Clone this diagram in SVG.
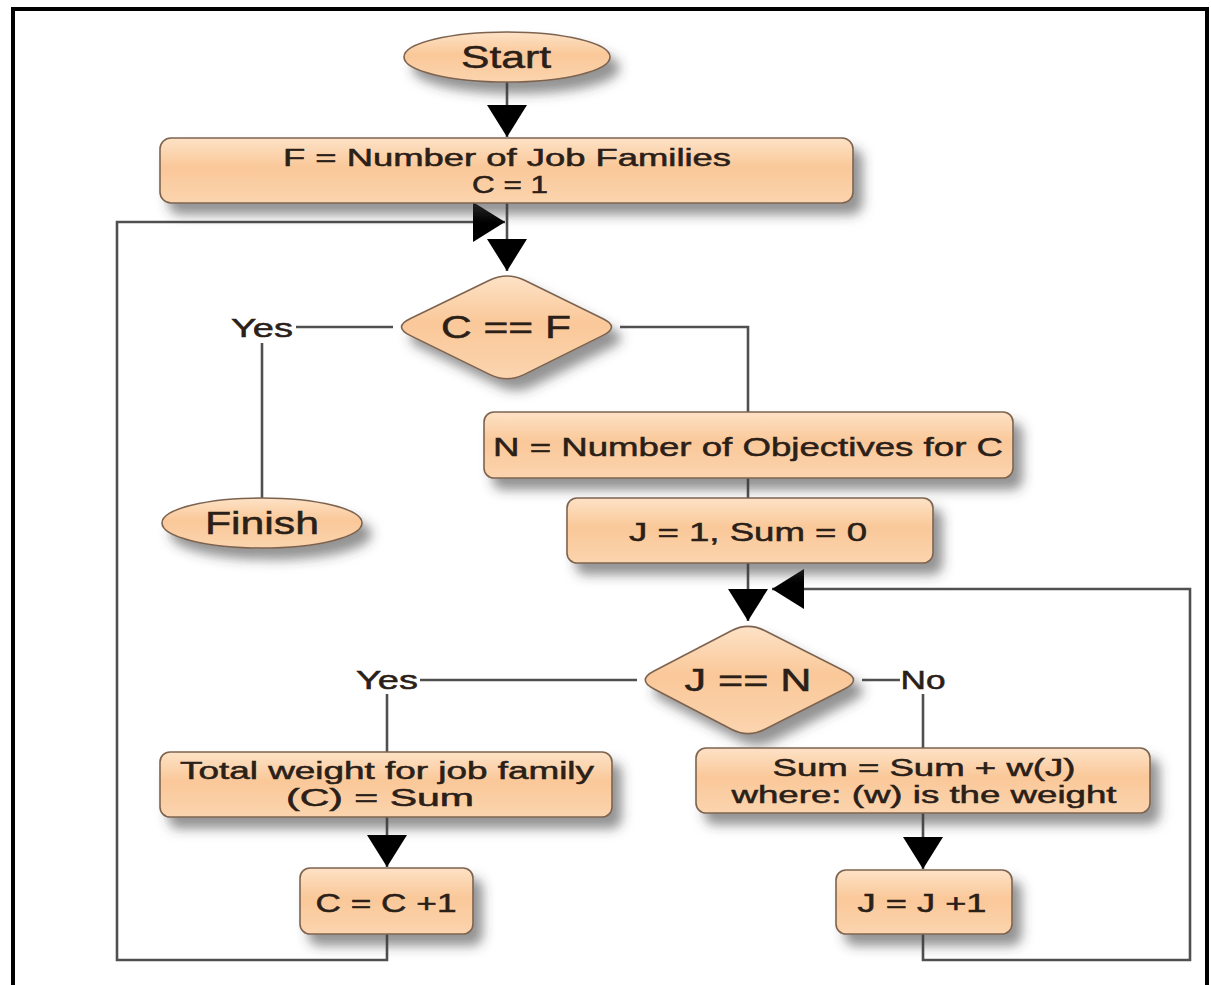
<svg xmlns="http://www.w3.org/2000/svg" width="1211" height="985" viewBox="0 0 1211 985">
  <style>
    .box { fill: url(#peach); stroke: #7d6450; stroke-width: 1.6; filter: url(#shadow); }
    .lbl { font-family: "Liberation Sans", Arial, sans-serif; fill: #2a2018; stroke: #2a2018; stroke-width: 0.5; text-anchor: middle; }
    .t24 { font-size: 26px; }
    .t2l { font-size: 23px; }
    .t30 { font-size: 32px; }
    .yn { font-size: 25px; }
    .wire { fill: none; stroke: #505050; stroke-width: 2.6; }
    .arr { fill: none; stroke: #505050; stroke-width: 2.6; marker-end: url(#head); }
  </style>
  <defs>
    <linearGradient id="peach" x1="0" y1="0" x2="0" y2="1">
      <stop offset="0" stop-color="#fde2c6"/>
      <stop offset="0.45" stop-color="#fac899"/>
      <stop offset="1" stop-color="#fbd4ae"/>
    </linearGradient>
    <filter id="shadow" x="-20%" y="-30%" width="150%" height="190%">
      <feGaussianBlur in="SourceAlpha" stdDeviation="6"/>
      <feOffset dx="9" dy="11" result="b"/>
      <feFlood flood-color="#3a3a3a" flood-opacity="0.55"/>
      <feComposite in2="b" operator="in"/>
      <feMerge>
        <feMergeNode/>
        <feMergeNode in="SourceGraphic"/>
      </feMerge>
    </filter>
    <marker id="head" markerUnits="userSpaceOnUse" markerWidth="34" markerHeight="42" refX="32" refY="20" orient="auto">
      <path d="M0,0 L32,20 L0,40 Z" fill="#000"/>
    </marker>
  </defs>

  <rect width="1211" height="985" fill="#fff"/>
  <!-- frame (bottom edge falls outside the page) -->
  <path d="M13,995 V9 H1207 V995" fill="none" stroke="#000" stroke-width="4"/>

  <g id="connectors">
    <path class="arr" d="M507,82 V137"/>
    <path class="arr" d="M507,203 V271"/>
    <path class="arr" d="M387,934 V960 H117 V222 H505"/>
    <path class="wire" d="M393,327 H296"/>
    <path class="wire" d="M262,343 V498"/>
    <path class="wire" d="M620,327 H748 V412"/>
    <path class="wire" d="M748,478 V498"/>
    <path class="arr" d="M748,563 V621"/>
    <path class="arr" d="M923,934 V960 H1190 V589 H772"/>
    <path class="wire" d="M637,680 H420"/>
    <path class="wire" d="M387,694 V752"/>
    <path class="wire" d="M862,680 H900"/>
    <path class="wire" d="M923,694 V748"/>
    <path class="arr" d="M387,817 V867"/>
    <path class="arr" d="M923,813 V869"/>
    <text class="lbl yn" x="262" y="337" textLength="62" lengthAdjust="spacingAndGlyphs">Yes</text>
    <text class="lbl yn" x="387" y="689" textLength="62" lengthAdjust="spacingAndGlyphs">Yes</text>
    <text class="lbl yn" x="923" y="689" textLength="45" lengthAdjust="spacingAndGlyphs">No</text>
  </g>

  <g id="start">
    <ellipse class="box" cx="507" cy="57" rx="103" ry="25"/>
    <text class="lbl t30" x="506" y="68" textLength="90" lengthAdjust="spacingAndGlyphs">Start</text>
  </g>

  <g id="init-families">
    <rect class="box" x="160" y="138" width="693" height="65" rx="11"/>
    <text class="lbl t2l" x="507" y="166" textLength="448" lengthAdjust="spacingAndGlyphs">F = Number of Job Families</text>
    <text class="lbl t2l" x="510" y="193" textLength="76" lengthAdjust="spacingAndGlyphs">C = 1</text>
  </g>

  <g id="check-c">
    <path class="box" d="M524,280 L603,318.8 Q620,327 603,335.4 L524,374.6 Q507,383 490,374.6 L410,335.4 Q393,327 410,318.8 L490,280 Q507,272 524,280 Z"/>
    <text class="lbl t30" x="506" y="338" textLength="130" lengthAdjust="spacingAndGlyphs">C == F</text>
  </g>

  <g id="finish">
    <ellipse class="box" cx="262" cy="523" rx="100" ry="25"/>
    <text class="lbl t30" x="262" y="534" textLength="114" lengthAdjust="spacingAndGlyphs">Finish</text>
  </g>

  <g id="objectives">
    <rect class="box" x="484" y="412" width="529" height="66" rx="10"/>
    <text class="lbl t24" x="748" y="456" textLength="510" lengthAdjust="spacingAndGlyphs">N = Number of Objectives for C</text>
  </g>

  <g id="init-sum">
    <rect class="box" x="567" y="498" width="366" height="65" rx="10"/>
    <text class="lbl t24" x="748" y="541" textLength="238" lengthAdjust="spacingAndGlyphs">J = 1, Sum = 0</text>
  </g>

  <g id="check-j">
    <path class="box" d="M765,630.7 L845,671.3 Q862,680 845,688.7 L765,729.3 Q748,738 731.4,729.3 L653.6,688.7 Q637,680 653.6,671.3 L731.4,630.7 Q748,622 765,630.7 Z"/>
    <text class="lbl t30" x="748" y="691" textLength="127" lengthAdjust="spacingAndGlyphs">J == N</text>
  </g>

  <g id="total-weight">
    <rect class="box" x="160" y="752" width="452" height="65" rx="10"/>
    <text class="lbl t2l" x="387" y="779" textLength="414" lengthAdjust="spacingAndGlyphs">Total weight for job family</text>
    <text class="lbl t2l" x="380" y="806" textLength="188" lengthAdjust="spacingAndGlyphs">(C)  = Sum</text>
  </g>

  <g id="next-c">
    <rect class="box" x="300" y="868" width="173" height="66" rx="10"/>
    <text class="lbl t24" x="386" y="912" textLength="141" lengthAdjust="spacingAndGlyphs">C = C +1</text>
  </g>

  <g id="accumulate">
    <rect class="box" x="696" y="748" width="454" height="65" rx="10"/>
    <text class="lbl t2l" x="924" y="776" textLength="303" lengthAdjust="spacingAndGlyphs">Sum = Sum + w(J)</text>
    <text class="lbl t2l" x="924" y="803" textLength="385" lengthAdjust="spacingAndGlyphs">where: (w) is the weight</text>
  </g>

  <g id="next-j">
    <rect class="box" x="836" y="870" width="176" height="64" rx="10"/>
    <text class="lbl t24" x="922" y="912" textLength="129" lengthAdjust="spacingAndGlyphs">J = J +1</text>
  </g>
</svg>
